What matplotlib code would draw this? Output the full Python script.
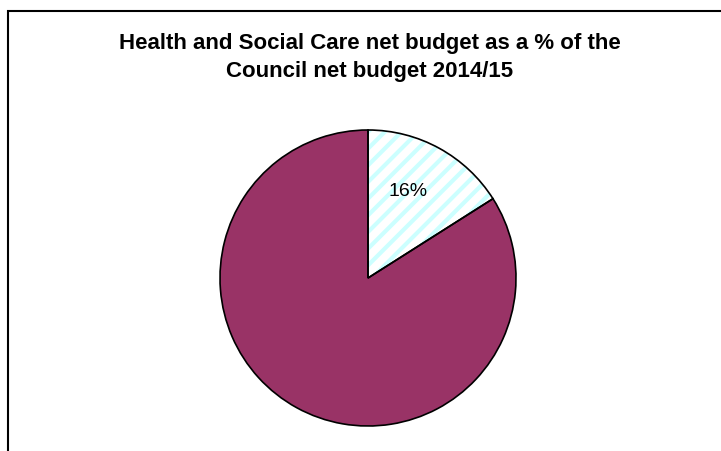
import matplotlib
matplotlib.use("Agg")
import matplotlib.pyplot as plt

# data
labels = ["Health and Social Care", "Rest of Council"]
shares = [16, 84]
slice_colors = ["white", "#993366"]
title_lines = ["Health and Social Care net budget as a % of the", "Council net budget 2014/15"]

plt.rcParams['font.family'] = ['Liberation Sans', 'DejaVu Sans']
plt.rcParams['hatch.linewidth'] = 3.0

W, H = 721, 452
fig = plt.figure(figsize=(W / 100, H / 100), dpi=100)
ax = fig.add_axes([0, 0, 1, 1])

cx, cy, r = 368, H - 279, 148

# filled wedges with hatch (hatch colour taken from edge colour)
wedges, _ = ax.pie(shares, colors=slice_colors, startangle=90, counterclock=False,
                   center=(cx, cy), radius=r, frame=True,
                   wedgeprops=dict(edgecolor="#ccffff", linewidth=0))
wedges[0].set_hatch("//")
wedges[1].set_edgecolor("#993366")
# black outlines on top
ax.pie(shares, colors=["none", "none"], startangle=90, counterclock=False,
       center=(cx, cy), radius=r, frame=True,
       wedgeprops=dict(edgecolor="black", linewidth=1.2, fill=False))
ax.set_xlim(0, W)
ax.set_ylim(0, H)
ax.set_aspect("equal")
ax.axis("off")

ax.text(cx + 40, cy + 87, "%d%%" % shares[0], ha="center", va="center", fontsize=14)

ax.text(370, H - 49, title_lines[0], ha="center", va="baseline", fontsize=16, fontweight="bold")
ax.text(370, H - 77, title_lines[1], ha="center", va="baseline", fontsize=16, fontweight="bold")

# chart area border (runs off the right and bottom)
ax.plot([8, 8, W + 5], [-5, H - 12, H - 12], color="black", linewidth=1.5,
        solid_joinstyle="miter")

fig.savefig("out.png", dpi=100)
